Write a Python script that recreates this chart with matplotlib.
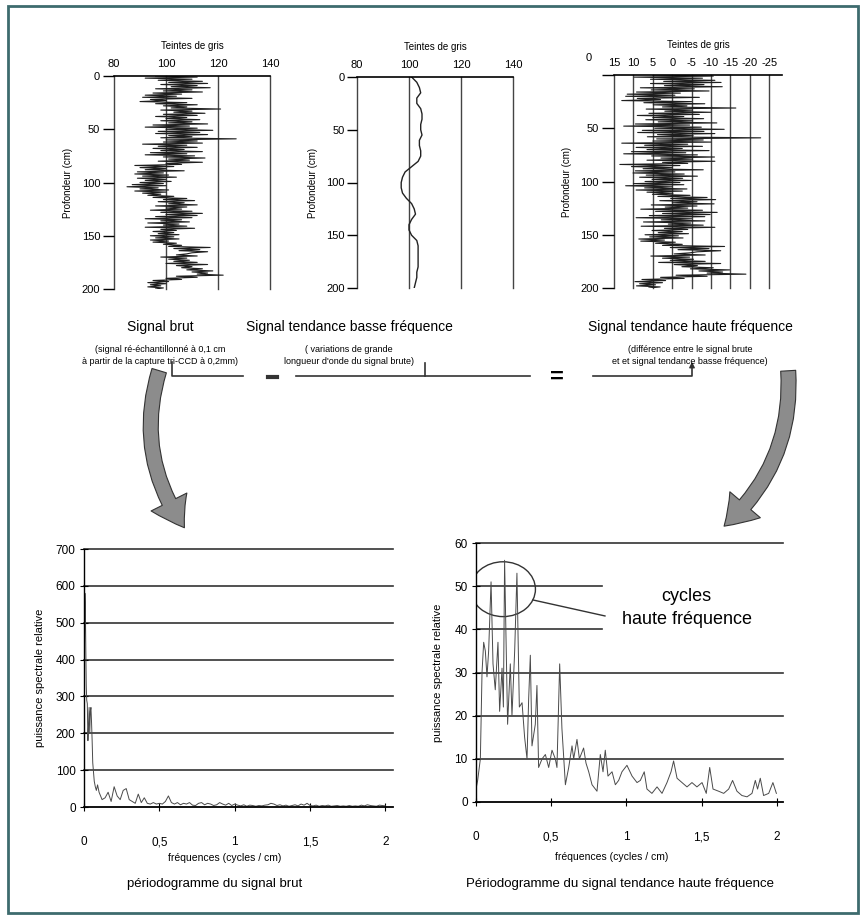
import numpy as np
import matplotlib.pyplot as plt
from matplotlib.patches import Ellipse, FancyArrowPatch, Rectangle
from matplotlib.lines import Line2D

plt.rcParams['font.family'] = ['Liberation Sans', 'DejaVu Sans']

W, H = 866, 919

# ---- profile data (depth in cm, grey levels) ----
depth_raw = np.arange(0, 201)
raw = [
    96, 112, 92, 110, 97, 114, 101, 116, 98, 112,
    102, 117, 96, 110, 99, 114, 95, 106, 92, 104,
    91, 110, 94, 100, 90, 108, 96, 112, 99, 108,
    102, 121, 98, 110, 103, 115, 99, 112, 96, 108,
    100, 113, 98, 110, 101, 116, 95, 109, 92, 112,
    100, 118, 97, 113, 96, 116, 101, 110, 98, 127,
    100, 112, 99, 114, 91, 108, 97, 112, 95, 107,
    98, 114, 94, 108, 92, 111, 99, 115, 101, 109,
    97, 114, 100, 106, 88, 103, 90, 100, 92, 107,
    89, 99, 88, 101, 91, 104, 89, 100, 92, 102,
    90, 99, 87, 100, 85, 97, 90, 101, 88, 100,
    91, 98, 93, 103, 95, 108, 99, 111, 97, 107,
    101, 112, 96, 108, 100, 106, 94, 110, 98, 114,
    100, 112, 96, 110, 92, 106, 98, 109, 93, 105,
    99, 108, 92, 111, 98, 104, 95, 103, 97, 105,
    94, 103, 96, 105, 94, 101, 95, 104, 99, 106,
    101, 117, 103, 113, 105, 116, 110, 108, 104, 112,
    98, 108, 101, 109, 103, 112, 100, 116, 104, 110,
    106, 114, 108, 118, 110, 116, 112, 122, 104, 112,
    100, 106, 95, 101, 93, 100, 94, 98, 93, 99,
    96]

depth_trend = np.arange(0, 201, 5)
trend = [101, 103, 104, 104.5, 103, 103, 104.5, 105, 105, 104.5,
         104.5, 105, 104, 104, 104.5, 104.5, 103.5, 101, 98.5, 97.5,
         97, 97, 97.5, 99, 101, 102, 102.5, 101, 100, 100,
         101, 103, 103.5, 103.5, 103.5, 103.5, 103.5, 103, 103, 102.5, 102]

# high frequency = low frequency trend minus raw signal
hf = np.interp(depth_raw, depth_trend, trend) - np.array(raw)

# ---- periodograms ----
f_raw = [0, 0.003, 0.006, 0.009, 0.012, 0.015, 0.018, 0.022, 0.026, 0.03,
         0.034, 0.038, 0.042, 0.046, 0.05, 0.054, 0.058, 0.062, 0.068, 0.075,
         0.082, 0.09] + [round(0.1 + 0.02 * i, 2) for i in range(96)]
psd_raw = [0, 420, 580, 540, 430, 330, 290, 280, 180, 220,
           270, 200, 260, 270, 230, 180, 120, 100, 70, 55,
           45, 60,
           40, 20, 25, 40, 15, 55, 30, 20, 45, 50,
           20, 15, 10, 35, 12, 25, 10, 8, 12, 8,
           10, 8, 15, 30, 12, 8, 12, 6, 10, 8,
           12, 5, 4, 10, 12, 6, 10, 8, 4, 6,
           12, 8, 5, 10, 4, 8, 5, 3, 6, 2,
           5, 4, 2, 4, 3, 5, 6, 10, 8, 4,
           6, 3, 5, 2, 4, 6, 3, 8, 5, 10,
           4, 3, 5, 2, 4, 3, 5, 2, 3, 4,
           2, 3, 2, 4, 2, 3, 2, 5, 3, 6,
           4, 3, 2, 5, 4, 3]

f_hf = [0.0, 0.011, 0.029, 0.04, 0.051, 0.062, 0.073, 0.084, 0.1, 0.113,
        0.128, 0.146, 0.157, 0.173, 0.182, 0.19, 0.21, 0.228, 0.239, 0.257,
        0.272, 0.288, 0.306, 0.323, 0.339, 0.35, 0.361, 0.372, 0.394, 0.405,
        0.416, 0.439, 0.461, 0.483, 0.505, 0.527, 0.538, 0.556, 0.571, 0.594,
        0.616, 0.638, 0.649, 0.671, 0.687, 0.715, 0.731, 0.749, 0.771, 0.804,
        0.826, 0.844, 0.859, 0.877, 0.904, 0.926, 0.948, 0.97, 1.003, 1.037,
        1.07, 1.092, 1.118, 1.136, 1.169, 1.203, 1.236, 1.269, 1.296, 1.313,
        1.336, 1.369, 1.402, 1.435, 1.468, 1.502, 1.53, 1.553, 1.575, 1.612,
        1.646, 1.679, 1.705, 1.734, 1.767, 1.801, 1.834, 1.856, 1.871, 1.889,
        1.911, 1.945, 1.973, 1.996]
psd_hf = [3, 5, 10, 30, 37, 35, 29, 35, 51, 32,
          26, 37, 21, 31, 22, 56, 18, 32, 20, 35,
          53, 22, 23, 15, 10, 24, 34, 13, 18, 27,
          8, 10, 11, 8, 12, 10, 8, 32, 17, 4,
          8, 13, 10, 14.5, 10, 12.5, 9, 7, 4, 2.5,
          11, 7, 12, 6, 7, 4, 5, 7, 8.5, 6,
          4.5, 5, 7, 3, 2, 3.5, 2, 4.5, 7, 9.5,
          5.5, 4.5, 3.5, 4.5, 3.5, 4.5, 2, 8, 3, 2.5,
          2, 3, 5, 2.5, 1.5, 1.2, 2, 5, 3, 5.5,
          1.5, 2, 4.5, 2]

freq_ticks = [0, 0.5, 1, 1.5, 2]
freq_labels = ['0', '0,5', '1', '1,5', '2']

fig = plt.figure(figsize=(W / 100, H / 100), dpi=100)


def box(x0, y0, x1, y1):
    return [x0 / W, 1 - y1 / H, (x1 - x0) / W, (y1 - y0) / H]


def fx(x):
    return x / W


def fy(y):
    return 1 - y / H


def profile_axes(rect, xlim, xticks, xlabels, ticklen):
    ax = fig.add_axes(rect)
    ax.set_xlim(*xlim)
    ax.set_ylim(200, 0)
    ax.xaxis.tick_top()
    ax.set_xticks(xticks)
    ax.set_xticklabels(xlabels)
    ax.tick_params(axis='x', length=0, pad=5, labelsize=8)
    ax.set_yticks([0, 50, 100, 150, 200])
    ax.tick_params(axis='y', direction='out', length=ticklen, width=1, labelsize=8, pad=2)
    ax.xaxis.set_label_position('top')
    ax.set_xlabel('Teintes de gris', fontsize=7, labelpad=7)
    ax.set_ylabel('Profondeur (cm)', fontsize=7, labelpad=6)
    for g in xticks:
        ax.axvline(g, color='#444444', lw=1, zorder=1, clip_on=False)
    for s in ['bottom', 'left', 'right']:
        ax.spines[s].set_visible(False)
    ax.spines['top'].set_linewidth(1.2)
    return ax


# Signal brut
ax1 = profile_axes(box(114, 76, 270, 289), (80, 140), [80, 100, 120, 140],
                   ['80', '100', '120', '140'], 8)
ax1.plot(raw, depth_raw, color='#1e1e1e', lw=0.8, zorder=2)

# Signal tendance basse frequence
ax2 = profile_axes(box(357, 77, 513, 288), (80, 140), [80, 100, 120, 140],
                   ['80', '100', '120', '140'], 7)
ax2.plot(trend, depth_trend, color='#222222', lw=1.0, zorder=2)

# Signal tendance haute frequence
hf_ticks = [15, 10, 5, 0, -5, -10, -15, -20, -25]
ax3 = profile_axes(box(614, 75, 782, 288), (15, -28.3), hf_ticks,
                   [str(t) for t in hf_ticks], 9)
ax3.set_yticklabels(['', '50', '100', '150', '200'])
ax3.plot(hf, depth_raw, color='#1e1e1e', lw=0.8, zorder=2)
fig.text(fx(589), fy(58), '0', fontsize=8, ha='center', va='center')

# captions under profiles
caps = [
    (160, 'Signal brut', '(signal ré-échantillonné à 0,1 cm', 'à partir de la capture tri-CCD à 0,2mm)'),
    (349, 'Signal tendance basse fréquence', '( variations de grande', "longueur d'onde du signal brute)"),
    (690, 'Signal tendance haute fréquence', '(différence entre le signal brute', 'et et signal tendance basse fréquence)'),
]
for xc, t1, t2, t3 in caps:
    fig.text(fx(xc), fy(327), t1, fontsize=10, ha='center', va='center')
    fig.text(fx(xc), fy(350), t2, fontsize=6.5, ha='center', va='center')
    fig.text(fx(xc), fy(362), t3, fontsize=6.5, ha='center', va='center')

# bracket: brut - basse = haute
lc = '#333333'
segs = [([172, 172, 243], [362, 376, 376]),
        ([296, 530], [376, 376]),
        ([425, 425], [363, 376]),
        ([593, 692, 692], [376, 376, 366])]
for xs, ys in segs:
    fig.add_artist(Line2D([fx(v) for v in xs], [fy(v) for v in ys], color=lc, lw=1.2))
fig.add_artist(FancyArrowPatch((fx(692), fy(368)), (fx(692), fy(359)), transform=fig.transFigure,
                               arrowstyle='-|>', mutation_scale=8, color=lc, lw=1))
fig.add_artist(Line2D([fx(268), fx(277)], [fy(377), fy(377)], color=lc, lw=3))
fig.text(fx(557), fy(377), '=', fontsize=17, fontweight='bold', ha='center', va='center')

# big curved arrows
arrow_style = 'simple,head_length=1.8,head_width=2.4,tail_width=0.9'
fig.add_artist(FancyArrowPatch((fx(160), fy(368)), (fx(186), fy(530)), transform=fig.transFigure,
                               arrowstyle=arrow_style, mutation_scale=12,
                               connectionstyle='arc3,rad=0.25',
                               facecolor='#8c8c8c', edgecolor='#333333', lw=0.8))
fig.add_artist(FancyArrowPatch((fx(788), fy(368)), (fx(722), fy(528)), transform=fig.transFigure,
                               arrowstyle=arrow_style, mutation_scale=12,
                               connectionstyle='arc3,rad=-0.25',
                               facecolor='#8c8c8c', edgecolor='#333333', lw=0.8))


def spectrum_axes(rect, xmax, ymax, ystep):
    ax = fig.add_axes(rect)
    ax.set_xlim(0, xmax)
    ax.set_ylim(0, ymax)
    ax.set_xticks(freq_ticks)
    ax.set_xticklabels(freq_labels)
    ax.set_yticks(np.arange(0, ymax + 1, ystep))
    ax.tick_params(axis='x', direction='inout', length=6, pad=18, labelsize=8.5)
    ax.tick_params(axis='y', direction='inout', length=6, pad=3, labelsize=8.5)
    ax.set_ylabel('puissance spectrale relative', fontsize=8, labelpad=8)
    for s in ['top', 'right']:
        ax.spines[s].set_visible(False)
    ax.spines['bottom'].set_linewidth(1.3)
    ax.spines['left'].set_linewidth(1.0)
    return ax


# periodogramme du signal brut
ax4 = spectrum_axes(box(84, 549, 393, 807), 2.05, 700, 100)
for v in range(100, 701, 100):
    ax4.axhline(v, color='#333333', lw=1.2, clip_on=False, zorder=1)
ax4.plot(f_raw, psd_raw, color='#4a4a4a', lw=0.7, zorder=2)

# periodogramme du signal tendance haute frequence
ax5 = spectrum_axes(box(476, 543, 783, 802), 2.04, 60, 10)
for v in [10, 20, 30, 60]:
    ax5.axhline(v, color='#333333', lw=1.2, clip_on=False, zorder=1)
for v in [40, 50]:
    ax5.axhline(v, xmax=0.41, color='#333333', lw=1.2, zorder=1)
ax5.plot(f_hf, psd_hf, color='#4a4a4a', lw=0.7, zorder=2)
ax5.add_patch(Ellipse((0.18, 49.3), 0.43, 12.7, fill=False, edgecolor='#333333', lw=1))
ax5.plot([0.379, 0.857], [46.8, 43.1], color='#333333', lw=1)
ax5.text(1.40, 47.7, 'cycles', fontsize=13, ha='center', va='center')
ax5.text(1.40, 42.2, 'haute fréquence', fontsize=13, ha='center', va='center')

fig.text(fx(225), fy(858), 'fréquences (cycles / cm)', fontsize=7.5, ha='center', va='center')
fig.text(fx(612), fy(857), 'fréquences (cycles / cm)', fontsize=7.5, ha='center', va='center')
fig.text(fx(215), fy(884), 'périodogramme du signal brut', fontsize=9.5, ha='center', va='center')
fig.text(fx(620), fy(884), 'Périodogramme du signal tendance haute fréquence', fontsize=9.5,
         ha='center', va='center')

# frame
fig.add_artist(Rectangle((fx(8), fy(913)), (858 - 8) / W, (913 - 6) / H, transform=fig.transFigure,
                         fill=False, edgecolor='#3d6b6e', lw=2))

fig.savefig('out.png', dpi=100)
